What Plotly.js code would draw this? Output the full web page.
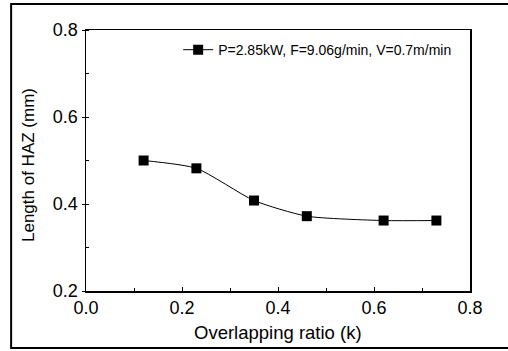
<!DOCTYPE html>
<html>
<head>
<meta charset="utf-8">
<script src="https://cdn.plot.ly/plotly-3.0.1.min.js"></script>
<style>html,body{margin:0;padding:0;background:#fff;}#chart{width:508px;height:351px;}</style>
</head>
<body>
<div id="chart"></div>
<script>
const overlapRatio = [0.12, 0.23, 0.35, 0.46, 0.62, 0.73];
const hazLength = [0.500, 0.482, 0.408, 0.372, 0.362, 0.362];
const seriesName = "P=2.85kW, F=9.06g/min, V=0.7m/min";
const xTickVals = [0.0, 0.2, 0.4, 0.6, 0.8];
const xTickText = ["0.0", "0.2", "0.4", "0.6", "0.8"];
const yTickVals = [0.2, 0.4, 0.6, 0.8];
const yTickText = ["0.2", "0.4", "0.6", "0.8"];
const xTitle = "Overlapping ratio (k)";
const yTitle = "Length of HAZ (mm)";

const trace = {
  x: overlapRatio,
  y: hazLength,
  name: seriesName,
  type: "scatter",
  mode: "lines+markers",
  line: {color: "#000", width: 1, shape: "spline", smoothing: 0.6},
  marker: {symbol: "square", size: 10, color: "#000"}
};

const layout = {
  width: 508, height: 351,
  margin: {l: 86, r: 38, t: 30, b: 60},
  paper_bgcolor: "#fff", plot_bgcolor: "#fff",
  font: {family: "Liberation Sans, Arial, sans-serif", color: "#000", size: 16},
  showlegend: true,
  legend: {x: 0.24, y: 0.923, xanchor: "left", yanchor: "middle", bgcolor: "rgba(0,0,0,0)",
           font: {size: 14, family: "Liberation Sans, Arial, sans-serif"}, tracegroupgap: 0},
  xaxis: {
    range: [0, 0.8], tickvals: xTickVals, ticktext: xTickText,
    showline: true, linecolor: "#000", linewidth: 1.5, mirror: true,
    ticks: "inside", ticklen: 4, tickcolor: "#000",
    minor: {dtick: 0.1, ticks: "inside", ticklen: 3, tickcolor: "#000"},
    showgrid: false, zeroline: false,
    tickfont: {size: 18},
    title: {text: ""}
  },
  yaxis: {
    range: [0.2, 0.8], tickvals: yTickVals, ticktext: yTickText,
    showline: true, linecolor: "#000", linewidth: 1.5, mirror: true,
    ticks: "outside", ticklen: 3, tickcolor: "#000",
    minor: {dtick: 0.1, ticks: "inside", ticklen: 3, tickcolor: "#000"},
    showgrid: false, zeroline: false,
    tickfont: {size: 18},
    title: {text: ""}
  },
  annotations: [
    {text: xTitle, xref: "paper", yref: "paper", x: (278 - 86) / 384, y: (291 - 332) / 261,
     xanchor: "center", yanchor: "middle", showarrow: false, font: {size: 18.5}},
    {text: yTitle, xref: "paper", yref: "paper", x: (29 - 86) / 384, y: (291 - 165) / 261,
     xanchor: "center", yanchor: "middle", showarrow: false, textangle: -90, font: {size: 17}}
  ],
  shapes: [{
    type: "rect", xref: "paper", yref: "paper",
    x0: -0.195, x1: 1.25, y0: -0.218, y1: 1.1,
    line: {color: "#000", width: 2}, fillcolor: "rgba(0,0,0,0)", layer: "below"
  }]
};

Plotly.newPlot("chart", [trace], layout, {displayModeBar: false, staticPlot: true});
</script>
</body>
</html>
